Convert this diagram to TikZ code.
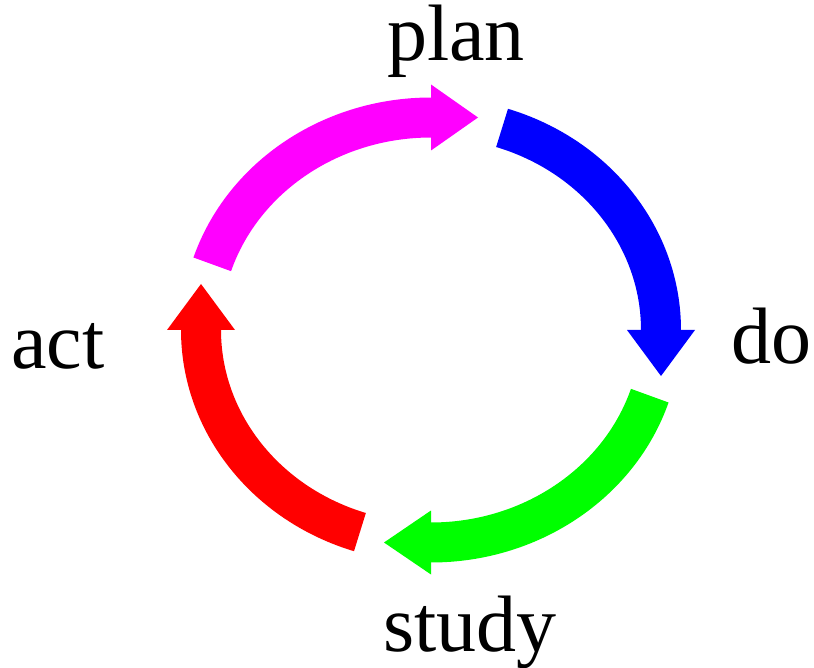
\documentclass[tikz,border=0pt]{standalone}
\usepackage{fontspec}
\setmainfont{Liberation Serif}
\usetikzlibrary{calc}
\definecolor{cmag}{RGB}{255,0,255}
\definecolor{cblue}{RGB}{0,0,255}
\definecolor{cgreen}{RGB}{0,255,0}
\definecolor{cred}{RGB}{255,0,0}
\tikzset{
  shaft/.style={line width=40pt, line cap=butt},
  lbl/.style={anchor=base, inner sep=0pt, font=\fontsize{80}{96}\selectfont},
}
\begin{document}
\begin{tikzpicture}[x=1pt,y=1pt]
\useasboundingbox (0,0) rectangle (814,-668);
\coordinate (C) at (431,-330);
% axis points (head bases)
\coordinate (T) at ($(C)+(90:230 and 212.5)$);
\coordinate (R) at ($(C)+(0:230 and 212.5)$);
\coordinate (B) at ($(C)+(270:230 and 212.5)$);
\coordinate (L) at ($(C)+(180:230 and 212.5)$);
% tails
\coordinate (mt) at ($(C)+(162:230 and 212.5)$);
\coordinate (bt) at ($(C)+(72:230 and 212.5)$);
\coordinate (gt) at ($(C)+(-18:230 and 212.5)$);
\coordinate (rt) at ($(C)+(252:230 and 212.5)$);
% shafts
\draw[shaft, cmag] (mt) arc[start angle=162, end angle=89.8, x radius=230pt, y radius=212.5pt];
\draw[shaft, cblue] (bt) arc[start angle=72, end angle=-0.2, x radius=230pt, y radius=212.5pt];
\draw[shaft, cgreen] (gt) arc[start angle=-18, end angle=-90.2, x radius=230pt, y radius=212.5pt];
\draw[shaft, cred] (rt) arc[start angle=252, end angle=179.8, x radius=230pt, y radius=212.5pt];
% heads
\fill[cmag] ($(T)+(0,33)$) -- ($(T)+(47,0)$) -- ($(T)+(0,-33)$) -- cycle;
\fill[cblue] ($(R)+(-34,0)$) -- ($(R)+(0,-46)$) -- ($(R)+(34,0)$) -- cycle;
\fill[cgreen] ($(B)+(0,32)$) -- ($(B)+(-47,0)$) -- ($(B)+(0,-32)$) -- cycle;
\fill[cred] ($(L)+(-34,0)$) -- ($(L)+(0,46)$) -- ($(L)+(34,0)$) -- cycle;
% labels
\node[lbl] (plan) at (456,-61) {plan};
\node[lbl] (do) at (771,-363) {do};
\node[lbl] (study) at (470,-651) {study};
\node[lbl] (act) at (58,-368) {act};
\end{tikzpicture}
\end{document}
